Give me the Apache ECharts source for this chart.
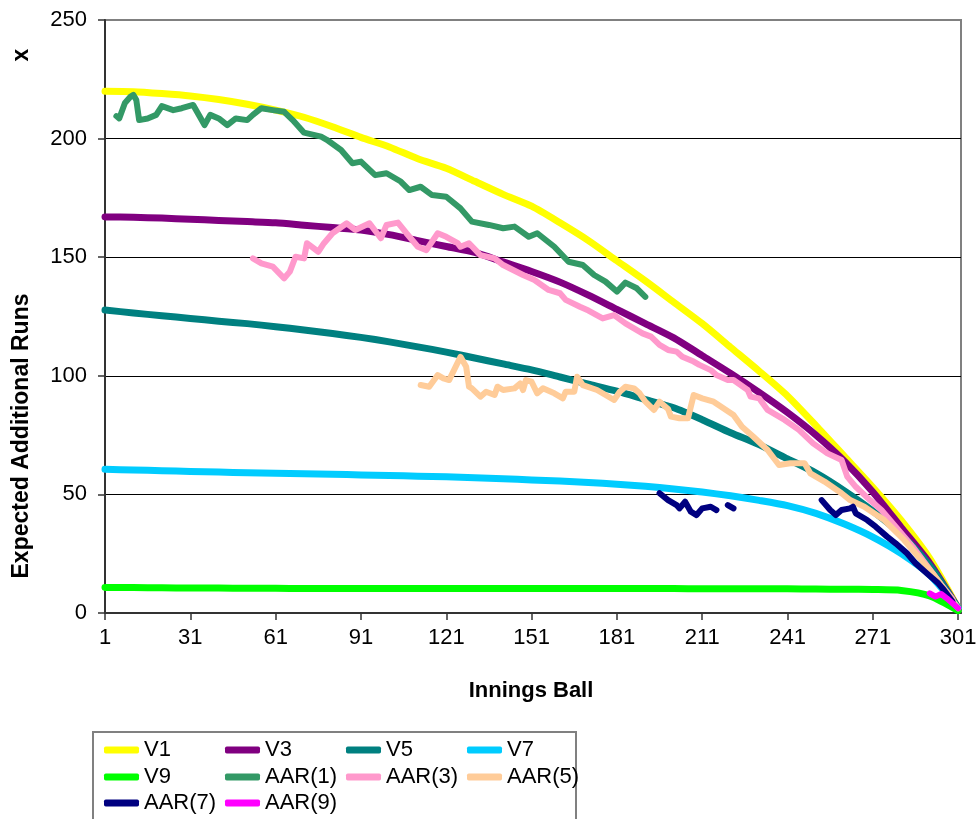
<!DOCTYPE html>
<html>
<head>
<meta charset="utf-8">
<script src="https://cdn.jsdelivr.net/npm/echarts@6/dist/echarts.min.js"></script>
<style>
  html, body { margin: 0; padding: 0; background: #fff; }
  #chart { width: 980px; height: 819px; }
</style>
</head>
<body>
<div id="chart"></div>
<script>
// Innings ball numbers on the category axis
const ballCount = 302;
const ballCategories = [];
for (let b = 1; b <= ballCount; b++) ballCategories.push(String(b));

// Smooth expected-runs curves, sampled every 10 balls
const vBalls = [1, 11, 21, 31, 41, 51, 61, 71, 81, 91, 101, 111, 121, 131, 141, 151,
                161, 171, 181, 191, 201, 211, 221, 231, 241, 251, 261, 271, 281, 291, 301];
const v1 = [220, 219.8, 219, 218, 216.5, 214.5, 212, 209, 205, 200.5, 196.5, 191.5, 187.5, 182, 176.5, 171.5,
            164.5, 157, 148.5, 140, 131, 122, 112, 102, 91.5, 79, 66, 53, 39, 23, 2];
const v3 = [167, 166.8, 166.5, 166, 165.5, 165, 164.5, 163.5, 162.5, 161.5, 159.5, 157, 154.5, 152, 148, 144,
            139.5, 134, 128, 122, 116, 108.5, 101, 93, 84.5, 75, 64, 51, 36, 21, 2];
const v5 = [127.7, 126.5, 125.3, 124.2, 123, 122, 120.7, 119.3, 117.8, 116.2, 114.3, 112.2, 110, 107.5, 105, 102.5,
            99.5, 96.5, 93.5, 90, 86.5, 81.5, 76, 71, 65, 59, 51.5, 43, 33, 20, 2];
const v7 = [60.6, 60.3, 60, 59.7, 59.4, 59.1, 58.9, 58.7, 58.5, 58.2, 58, 57.7, 57.4, 57, 56.6, 56.1,
            55.6, 55, 54.3, 53.4, 52.3, 51, 49.4, 47.5, 45.3, 42, 37.5, 32, 25, 16, 2];
const v9 = [10.8, 10.7, 10.6, 10.5, 10.5, 10.4, 10.4, 10.3, 10.3, 10.3, 10.3, 10.3, 10.3, 10.3, 10.3, 10.3,
            10.3, 10.3, 10.3, 10.3, 10.3, 10.2, 10.2, 10.2, 10.2, 10.1, 10, 9.9, 9.5, 7.2, 1];

// Actual additional runs (observed), by ball
const aar1Balls = [5, 6, 8, 10, 11, 12, 13, 16, 19, 21, 25, 28, 32, 36, 38, 41, 44, 47, 51, 53, 56, 60, 64, 67, 71,
                   77, 79, 84, 88, 91, 96, 100, 105, 108, 112, 116, 121, 126, 130, 136, 141, 145, 150, 153, 159,
                   164, 169, 173, 177, 181, 184, 188, 191];
const aar1Runs = [209.5, 208.5, 215, 217.7, 218.4, 216.3, 207.8, 208.5, 210, 213.7, 212, 212.8, 214.2, 205.7, 210,
                  208.5, 205.7, 208.5, 207.8, 210, 212.8, 212, 211.3, 207.8, 202.5, 200.8, 199.5, 195.2, 189.6,
                  190.3, 184.6, 185.4, 181.9, 178.3, 179.7, 176.2, 175.5, 170.6, 165, 163.6, 162.2, 162.9, 158.6,
                  160.1, 154.4, 148.1, 146.7, 142.5, 139.7, 135.5, 139.3, 136.9, 133.3];

const aar3Balls = [53, 56, 60, 64, 66, 68, 71, 72, 76, 78, 81, 86, 89, 94, 98, 100, 104, 107, 111, 114, 118, 121,
                   125, 126, 129, 133, 138, 141, 148, 152, 157, 161, 163, 168, 171, 176, 180, 184, 190, 193, 196,
                   199, 202, 204, 208, 210, 214, 216, 220, 222, 227, 228, 231, 234, 240, 245, 250, 255, 260, 262,
                   265, 270, 274, 280, 285, 290, 295, 299];
const aar3Runs = [149.5, 147.4, 146, 141.1, 143.9, 150.2, 149.5, 155.9, 152.3, 155.9, 160.1, 164.3, 161.5, 164.3,
                  158, 163.6, 164.6, 160.1, 154.4, 153, 160.1, 158.6, 155.9, 154.4, 155.9, 150.9, 149.5, 146.7,
                  142.5, 140.4, 136.2, 134.8, 132, 129.1, 127.5, 124.2, 125.6, 122.1, 117.9, 116.5, 113, 110.9,
                  110.2, 108, 106, 104.6, 102.4, 100.3, 98.2, 98.2, 94, 91.2, 90.5, 85.6, 81.4, 77.2, 71.5, 67.3,
                  64.5, 57.5, 53.2, 47.6, 43.4, 35, 28, 20, 12, 6];

const aar5Balls = [112, 115, 118, 120, 122, 126, 128, 129, 130, 133, 135, 138, 139, 141, 145, 147, 148, 149, 151,
                   153, 155, 159, 162, 163, 166, 167, 169, 174, 180, 182, 184, 187, 189, 191, 194, 196, 199, 200,
                   203, 206, 208, 211, 215, 217, 222, 225, 229, 234, 238, 242, 247, 249, 254, 260, 263, 268, 275,
                   282, 286, 292, 298, 301];
const aar5Runs = [96.1, 95.4, 100.3, 98.9, 98.2, 108, 103.8, 95.4, 94.7, 91.2, 93.3, 91.9, 95.4, 94, 94.7, 96.8,
                  94, 98.2, 97.5, 92.6, 94.7, 92.6, 90.5, 93.3, 93.3, 99.6, 96.1, 94, 89.8, 93.3, 95.4, 94.7, 92.6,
                  89.1, 85.6, 89.1, 86, 82.8, 82.1, 82.1, 91.9, 90.5, 89.1, 87.5, 83.5, 78.5, 74.3, 68.7, 62.4,
                  63.1, 63.1, 58.9, 55.4, 50.5, 47.6, 44.8, 39.2, 30.8, 25.2, 16.7, 6.9, 2];

// null marks balls with no observation (breaks in the line)
const aar7Balls = [196, 199, 202, 203, 205, 207, 209, 211, 214, 216, 218, 220, 222, 230, 253, 256, 258, 260, 263,
                   264, 265, 269, 272, 276, 279, 283, 286, 290, 294, 296, 299];
const aar7Runs = [50.5, 47.6, 45.5, 44.1, 46.9, 42.7, 41.3, 44.1, 44.8, 43.4, null, 45.5, 44.1, null, 47.6, 43.4,
                  41.3, 43.4, 44.1, 44.8, 42, 39.2, 36.4, 32.2, 29.4, 25.2, 21, 16.7, 12.5, 9.7, 4.8];

const aar9Balls = [291, 293, 295, 297, 299, 301];
const aar9Runs = [8.3, 6.9, 8, 6.2, 4.1, 2];

// Axis ticks
const yTicks = { min: 0, max: 250, step: 50 };
const xLabelEvery = 30;

function pairs(balls, runs) {
  return balls.map((b, i) => [String(b), runs[i] == null ? '-' : runs[i]]);
}

const FONT = "'Liberation Sans', Arial, sans-serif";

const seriesDefs = [
  { name: 'V1', color: '#FFFF00', data: pairs(vBalls, v1), width: 7, smooth: 0.25 },
  { name: 'V3', color: '#800080', data: pairs(vBalls, v3), width: 7, smooth: 0.25 },
  { name: 'V5', color: '#008080', data: pairs(vBalls, v5), width: 7, smooth: 0.25 },
  { name: 'V7', color: '#00CCFF', data: pairs(vBalls, v7), width: 7, smooth: 0.25 },
  { name: 'V9', color: '#00FF00', data: pairs(vBalls, v9), width: 7, smooth: 0.25 },
  { name: 'AAR(1)', color: '#339966', data: pairs(aar1Balls, aar1Runs), width: 6, smooth: false },
  { name: 'AAR(3)', color: '#FF99CC', data: pairs(aar3Balls, aar3Runs), width: 6, smooth: false },
  { name: 'AAR(5)', color: '#FFCC99', data: pairs(aar5Balls, aar5Runs), width: 6, smooth: false },
  { name: 'AAR(7)', color: '#000080', data: pairs(aar7Balls, aar7Runs), width: 6, smooth: false },
  { name: 'AAR(9)', color: '#FF00FF', data: pairs(aar9Balls, aar9Runs), width: 6, smooth: false }
];

// Legend laid out as a 4-column table inside a framed box
const legendCols = [104, 225, 346, 467];
const legendRows = [751, 778, 804];
const legends = seriesDefs.map((s, i) => ({
  data: [s.name],
  left: legendCols[i % 4],
  top: legendRows[Math.floor(i / 4)] - 12,
  orient: 'horizontal',
  icon: 'roundRect',
  itemWidth: 35,
  itemHeight: 7,
  padding: 0,
  itemGap: 0,
  selectedMode: false,
  textStyle: { fontFamily: FONT, fontSize: 22, color: '#000' }
}));

const chart = echarts.init(document.getElementById('chart'), null, { renderer: 'canvas' });
chart.setOption({
  animation: false,
  backgroundColor: '#fff',
  grid: {
    left: 105, right: 19, top: 20, bottom: 206,
    show: true, borderColor: '#808080', borderWidth: 2, backgroundColor: 'transparent'
  },
  xAxis: {
    type: 'category',
    data: ballCategories,
    boundaryGap: false,
    axisLine: { show: true, lineStyle: { color: '#333', width: 2 } },
    axisTick: { show: true, interval: xLabelEvery - 1, length: 7, lineStyle: { color: '#333', width: 1.5 } },
    axisLabel: { interval: xLabelEvery - 1, fontFamily: FONT, fontSize: 22, color: '#000', margin: 14 },
    splitLine: { show: false }
  },
  yAxis: {
    type: 'value',
    min: yTicks.min, max: yTicks.max, interval: yTicks.step,
    axisLine: { show: true, lineStyle: { color: '#333', width: 2 } },
    axisTick: { show: true, length: 7, lineStyle: { color: '#333', width: 1.5 } },
    axisLabel: { fontFamily: FONT, fontSize: 22, color: '#000', margin: 18 },
    splitLine: { show: true, showMinLine: false, showMaxLine: false, lineStyle: { color: '#000', width: 1 } }
  },
  legend: legends,
  graphic: [
    {
      type: 'rect', z: 0,
      shape: { x: 93, y: 732, width: 483, height: 110 },
      style: { fill: '#fff', stroke: '#808080', lineWidth: 2 }
    },
    {
      type: 'text', x: 531, y: 691,
      style: { text: 'Innings Ball', font: "bold 22px 'Liberation Sans', Arial, sans-serif",
               fill: '#000', textAlign: 'center', textVerticalAlign: 'middle' }
    },
    {
      type: 'text', x: 22, y: 436, rotation: Math.PI / 2,
      style: { text: 'Expected Additional Runs', font: "bold 23px 'Liberation Sans', Arial, sans-serif",
               fill: '#000', textAlign: 'center', textVerticalAlign: 'middle' }
    },
    {
      type: 'text', x: 22, y: 55, rotation: Math.PI / 2,
      style: { text: 'x', font: "bold 23px 'Liberation Sans', Arial, sans-serif",
               fill: '#000', textAlign: 'center', textVerticalAlign: 'middle' }
    }
  ],
  series: seriesDefs.map(s => ({
    name: s.name,
    type: 'line',
    data: s.data,
    smooth: s.smooth,
    showSymbol: false,
    symbol: 'none',
    connectNulls: false,
    color: s.color,
    lineStyle: { color: s.color, width: s.width, cap: 'round', join: 'round' },
    emphasis: { disabled: true }
  }))
});
</script>
</body>
</html>
